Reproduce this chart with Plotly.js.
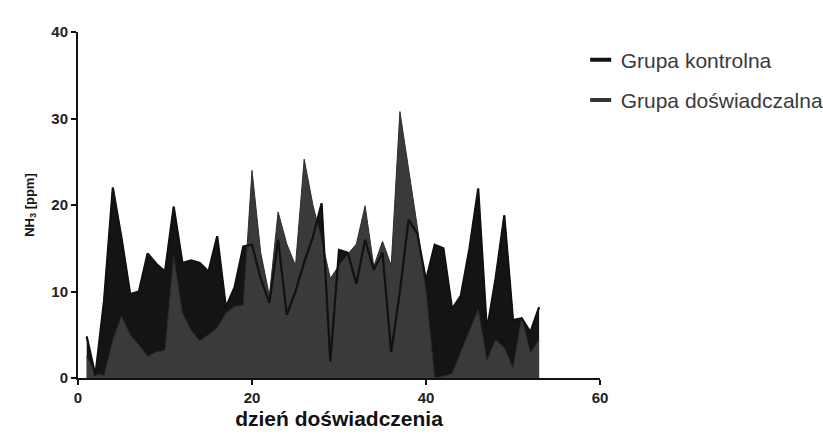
<!DOCTYPE html>
<html>
<head>
<meta charset="utf-8">
<script src="https://cdn.plot.ly/plotly-3.0.1.min.js"></script>
<style>html,body{margin:0;padding:0;background:#fff;}#chart{width:823px;height:437px;}</style>
</head>
<body>
<div id="chart"></div>
<script>
const days = [1,2,3,4,5,6,7,8,9,10,11,12,13,14,15,16,17,18,19,20,21,22,23,24,25,26,27,28,29,30,31,32,33,34,35,36,37,38,39,40,41,42,43,44,45,46,47,48,49,50,51,52,53];
const kontrolna = [4.8,0.3,9,22,16.2,9.7,10,14.4,13.2,12.3,19.8,13.3,13.6,13.3,12.3,16.4,8.2,10.5,15.2,15.4,11.5,8.7,16,7.3,10,13.4,16.3,20.2,1.9,14.8,14.5,10.9,16,12.5,14.5,3.0,10,18.3,16.7,11.3,15.4,15.0,8.0,9.5,15,21.9,5.5,11.5,18.8,6.7,6.9,5.3,8.2];
const doswiadczalna = [2.5,0.5,0.3,4.4,7.1,5.0,3.8,2.5,3.0,3.2,14,7.5,5.5,4.3,5.0,5.8,7.5,8.3,8.4,24,14.5,9.5,19.2,15.5,13,25.3,20,16,11.5,13,14.3,15.5,19.9,12.9,15.8,13,30.8,24.4,17.5,10,0,0.2,0.5,3,5.5,7.9,2,4.4,3.5,1.1,7.0,2.9,4.4];
const seriesNames = ['Grupa kontrolna','Grupa doświadczalna'];
const xTicks = [0,20,40,60];
const yTicks = [0,10,20,30,40];
const xTitle = 'dzień doświadczenia';
const yTitle = 'NH<sub>3</sub> [ppm]';

const font = 'Liberation Sans, Arial, sans-serif';
const traces = [
  {x: days, y: kontrolna, type:'scatter', mode:'lines', fill:'tozeroy', fillcolor:'#141414',
   line:{color:'#111111', width:1}, showlegend:false, hoverinfo:'skip'},
  {x: days, y: doswiadczalna, type:'scatter', mode:'lines', fill:'tozeroy', fillcolor:'#3a3a3a',
   line:{color:'#2c2c2c', width:1}, showlegend:false, hoverinfo:'skip'},
  {x: days, y: kontrolna, type:'scatter', mode:'lines',
   line:{color:'#111111', width:2.2}, showlegend:false, hoverinfo:'skip'},
  {x:[null], y:[null], type:'scatter', mode:'markers', name: seriesNames[0], legendgroup:'a',
   marker:{symbol:'line-ew', size:15, line:{color:'#111111', width:4}}},
  {x:[null], y:[null], type:'scatter', mode:'markers', name: seriesNames[1], legendgroup:'b',
   marker:{symbol:'line-ew', size:15, line:{color:'#333333', width:4}}}
];

const layout = {
  width: 823, height: 437,
  margin: {l:78, r:223, t:32, b:59, autoexpand:false},
  paper_bgcolor:'#ffffff', plot_bgcolor:'#ffffff',
  showlegend: true,
  legend: {x: 0.963, xanchor:'left', y: 0.978, yanchor:'top', bgcolor:'rgba(0,0,0,0)',
    font:{family: font, size:21, color:'#3a3a3a'}, tracegroupgap: 10, traceorder:'grouped'},
  xaxis: {range:[0,60], tickvals: xTicks, ticktext: xTicks.map(String), showgrid:false, zeroline:false,
    showline:true, linecolor:'#111111', linewidth:2, ticks:'outside', ticklen:5, tickwidth:2, tickcolor:'#111111',
    tickfont:{family: font, size:15, color:'#222222', weight:'bold'}, automargin:false,
    title:{text: xTitle, font:{family: font, size:21, color:'#111111', weight:'bold'}, standoff:6}},
  yaxis: {range:[0,40], tickvals: yTicks, ticktext: yTicks.map(String), showgrid:false, zeroline:false,
    showline:true, linecolor:'#111111', linewidth:2, ticks:'outside', ticklen:5, tickwidth:2, tickcolor:'#111111',
    tickfont:{family: font, size:15, color:'#222222', weight:'bold'}, automargin:false,
    title:{text: yTitle, font:{family: font, size:13, color:'#111111', weight:'bold'}, standoff:14}}
};
Plotly.newPlot('chart', traces, layout, {displayModeBar:false, staticPlot:true});
</script>
</body>
</html>
